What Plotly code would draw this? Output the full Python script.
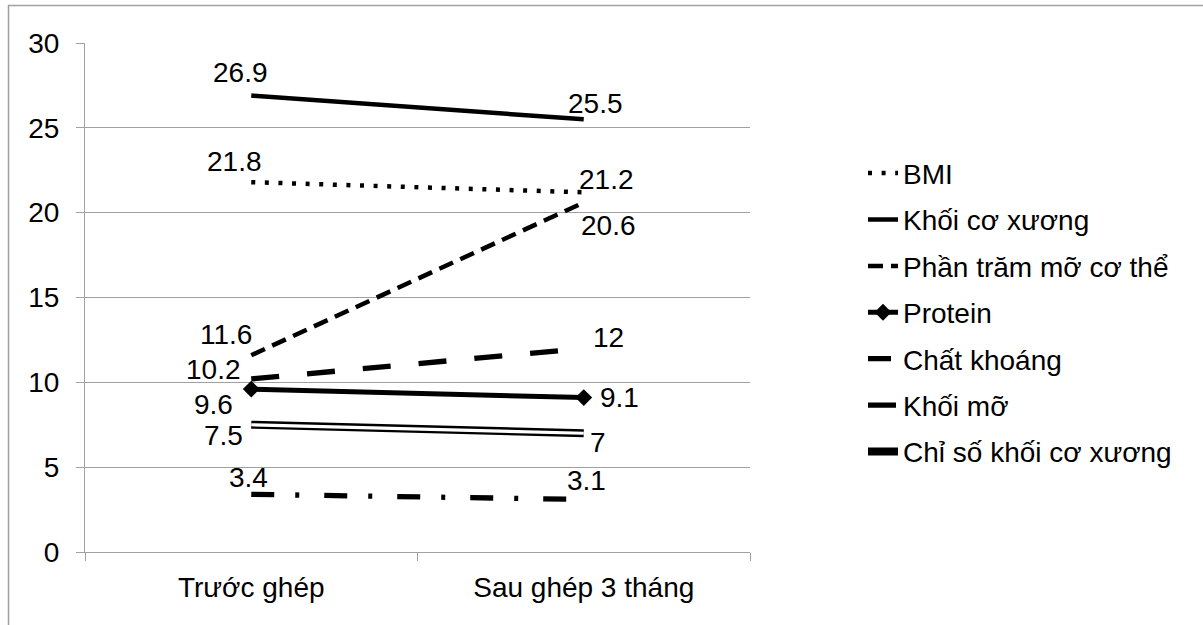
import plotly.graph_objects as go

categories = ["Trước ghép", "Sau ghép 3 tháng"]
series_names = ["BMI", "Khối cơ xương", "Phần trăm mỡ cơ thể", "Protein",
                "Chất khoáng", "Khối mỡ", "Chỉ số khối cơ xương"]
bmi = [21.8, 21.2]
khoi_co_xuong = [26.9, 25.5]
phan_tram_mo = [11.6, 20.6]
protein = [9.6, 9.1]
chat_khoang = [3.4, 3.1]
khoi_mo = [10.2, 12]
chi_so_kcx = [7.5, 7]
y_ticks = [0, 5, 10, 15, 20, 25, 30]

series_values = [bmi, khoi_co_xuong, phan_tram_mo, protein, chat_khoang, khoi_mo, chi_so_kcx]

FONT = "Liberation Sans, Arial, sans-serif"
FS = 28

styles = [
    dict(width=4.5, dash="4px,9.6px"),
    dict(width=4.5, dash="solid"),
    dict(width=4.5, dash="15px,8px"),
    dict(width=5, dash="solid"),
    dict(width=5.3, dash="23px,21px,4px,25px"),
    dict(width=5.3, dash="28px,28px"),
    dict(width=8, dash="solid"),
]
# label offsets (pixels) for each series: (first point, second point)
label_shift = [
    [(-17, 21), (23, 13)],
    [(-11, 23), (12, 16)],
    [(-25, 21), (25, -23)],
    [(-38, -15), (36, 0)],
    [(-3, 17), (3, 19)],
    [(-38, 9), (25, 11)],
    [(-28, -11), (14, -9)],
]

fig = go.Figure()
for i, (name, vals) in enumerate(zip(series_names, series_values)):
    st = styles[i]
    mode = "lines+markers" if name == "Protein" else "lines"
    fig.add_trace(go.Scatter(
        x=categories, y=vals, name=name, mode=mode,
        line=dict(color="black", width=st["width"], dash=st["dash"]),
        marker=dict(symbol="diamond", size=13, color="black") if name == "Protein" else None,
        legendgroup=name,
        hoverinfo="skip",
    ))
# inner white line for the double-line series
fig.add_trace(go.Scatter(
    x=categories, y=chi_so_kcx, mode="lines", showlegend=False,
    line=dict(color="white", width=3.2), hoverinfo="skip",
))

annotations = []
for i, vals in enumerate(series_values):
    for j, v in enumerate(vals):
        dx, dy = label_shift[i][j]
        annotations.append(dict(
            x=categories[j], y=v, text=f"{v:g}", showarrow=False,
            xshift=dx, yshift=dy, font=dict(family=FONT, size=FS, color="black"),
        ))

# plot area in pixels: x 85..750, y 42.5..552
L, R, T, B = 85, 750, 42.5, 552
W, H = R - L, B - T

def px_x(px):
    return (px - L) / W

def px_y(py):
    return (B - py) / H

fig.update_layout(
    width=1203, height=625,
    margin=dict(l=L, r=1203 - R, t=T, b=625 - B, pad=0),
    paper_bgcolor="white", plot_bgcolor="white",
    font=dict(family=FONT, size=FS, color="black"),
    showlegend=True,
    legend=dict(
        x=px_x(863), xanchor="left", y=px_y(148), yanchor="top",
        font=dict(family=FONT, size=FS, color="black"),
        tracegroupgap=7, itemwidth=30, bgcolor="rgba(0,0,0,0)",
    ),
    annotations=annotations,
    shapes=[dict(
        type="rect", xref="paper", yref="paper",
        x0=px_x(8.5), x1=px_x(1230), y0=px_y(660), y1=px_y(5),
        line=dict(color="#a0a0a0", width=1.5), fillcolor="rgba(0,0,0,0)",
        layer="below",
    )],
    xaxis=dict(
        type="category", range=[-0.5, 1.5],
        showgrid=False, showline=True, linecolor="#a0a0a0", linewidth=1.2,
        ticks="outside", tickson="boundaries", ticklen=8, tickcolor="#a0a0a0",
        ticklabelstandoff=10,
        tickfont=dict(family=FONT, size=FS, color="black"),
        fixedrange=True,
    ),
    yaxis=dict(
        range=[0, 30], tickvals=y_ticks,
        showgrid=True, gridcolor="#a0a0a0", gridwidth=1.2,
        showline=True, linecolor="#a0a0a0", linewidth=1.2,
        ticks="outside", ticklen=8, tickcolor="#a0a0a0",
        ticklabelstandoff=11, zeroline=False,
        tickfont=dict(family=FONT, size=FS, color="black"),
        fixedrange=True,
    ),
)

fig.write_html("out.html", config={"displayModeBar": False},
               post_script="document.body.style.margin='0';")
